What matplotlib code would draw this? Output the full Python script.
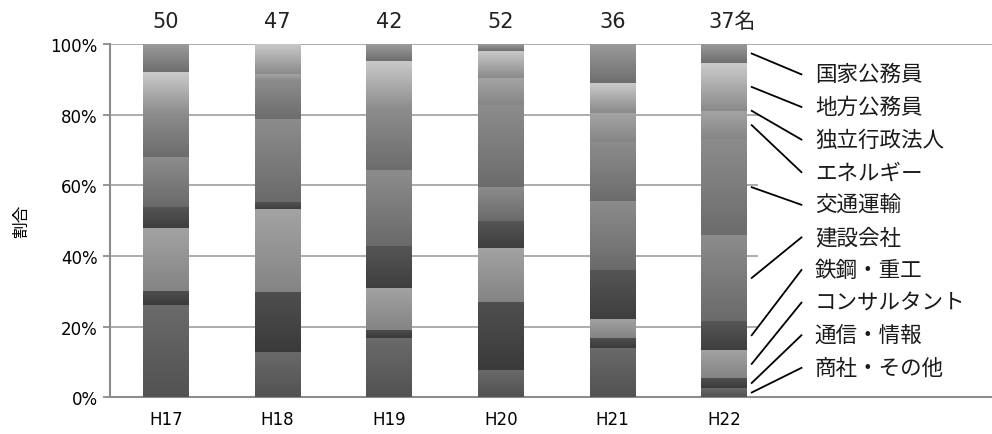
import numpy as np
import matplotlib
matplotlib.use('Agg')
import matplotlib.pyplot as plt
from matplotlib.colors import LinearSegmentedColormap

plt.rcParams['font.family'] = ['Noto Sans CJK JP', 'DejaVu Sans']

years = ['H17', 'H18', 'H19', 'H20', 'H21', 'H22']
totals = [50, 47, 42, 52, 36, 37]
count_labels = ['50', '47', '42', '52', '36', '37名']

# 人数 (下から順に積む)
shosha = [13, 6, 7, 4, 5, 1]
tsushin = [2, 8, 1, 10, 1, 1]
consul = [9, 11, 5, 8, 2, 3]
tekko = [3, 1, 5, 4, 5, 3]
kensetsu = [7, 11, 9, 5, 7, 9]
kotsu = [6, 5, 7, 12, 6, 10]
energy = [0, 1, 0, 4, 3, 3]
dokuritsu = [0, 0, 0, 0, 0, 0]
chiho = [6, 4, 6, 4, 3, 5]
kokka = [4, 0, 2, 1, 4, 2]

series = [shosha, tsushin, consul, tekko, kensetsu, kotsu, energy, dokuritsu, chiho, kokka]
names = ['商社・その他', '通信・情報', 'コンサルタント', '鉄鋼・重工', '建設会社',
         '交通運輸', 'エネルギー', '独立行政法人', '地方公務員', '国家公務員']
# (下端, 上端) のグレー
grays = [('#525252', '#6a6a6a'), ('#3a3a3a', '#4f4f4f'), ('#848484', '#a3a3a3'),
         ('#3e3e3e', '#565656'), ('#6a6a6a', '#8c8c8c'), ('#6c6c6c', '#8c8c8c'),
         ('#868686', '#a5a5a5'), ('#909090', '#b0b0b0'), ('#8a8a8a', '#cbcbcb'),
         ('#6e6e6e', '#9c9c9c')]

fig = plt.figure(figsize=(9.92, 4.35), dpi=100)
ax = fig.add_axes([0.1109, 0.0844, 0.8891, 0.8122])

x = np.arange(len(years))
w = 0.41
tot = np.array(totals, dtype=float)
bottom = np.zeros(len(years))
mids_last = []
grad = np.linspace(0, 1, 256).reshape(-1, 1)
for s, (c0, c1) in zip(series, grays):
    pct = np.array(s) / tot
    bars = ax.bar(x, pct, w, bottom=bottom, color=c1, linewidth=0, zorder=2)
    cmap = LinearSegmentedColormap.from_list('g', [c0, c1])
    for p in bars:
        if p.get_height() > 0:
            ax.imshow(grad, extent=[p.get_x(), p.get_x() + p.get_width(), p.get_y(), p.get_y() + p.get_height()],
                      cmap=cmap, origin='lower', aspect='auto', interpolation='bilinear', zorder=3)
    mids_last.append(bottom[-1] + pct[-1] / 2)
    bottom = bottom + pct

ax.set_xlim(-0.5, 7.396)
ax.set_ylim(0, 1)

gc = '#a6a6a6'
ax.hlines([0.2, 0.4, 0.6, 0.8], -0.5, 5.3, color=gc, lw=1.3, zorder=1)
ax.axhline(1.0, color=gc, lw=1.3, zorder=1)
for sp in ['top', 'right']:
    ax.spines[sp].set_visible(False)
ax.spines['left'].set_color('#8c8c8c')
ax.spines['left'].set_linewidth(1.5)
ax.spines['bottom'].set_color('#8c8c8c')
ax.spines['bottom'].set_linewidth(1.5)

ax.set_yticks([0, 0.2, 0.4, 0.6, 0.8, 1.0])
ax.set_yticklabels(['0%', '20%', '40%', '60%', '80%', '100%'], fontsize=12, family='DejaVu Sans')
ax.tick_params(axis='y', length=5, width=1.3, color='#8c8c8c', pad=4)
ax.set_xticks(x)
ax.set_xticklabels(years, fontsize=12, family='DejaVu Sans')
ax.tick_params(axis='x', length=0, pad=9)
ax.set_ylabel('割合', fontsize=12)
ax.yaxis.set_label_coords(-80 / 882, 0.5)

for xi, lab in zip(x, count_labels):
    xt = xi + (0.07 if lab.endswith('名') else 0)
    ax.text(xt, 1.065, lab, ha='center', va='center', fontsize=15, color='#222222',
            family=['DejaVu Sans', 'Noto Sans CJK JP'])

# 引き出し線とラベル
lab_y = 0.914 - 0.0923 * np.arange(len(names))
for name, m, ly in zip(names[::-1], mids_last[::-1], lab_y):
    ax.plot([5 + w / 2 + 0.04, 5.69], [m, ly], color='black', lw=1.3, zorder=4)
    ax.text(5.81, ly, name, ha='left', va='center', fontsize=15.5, color='#1a1a1a')

fig.savefig('out.png', dpi=100)
